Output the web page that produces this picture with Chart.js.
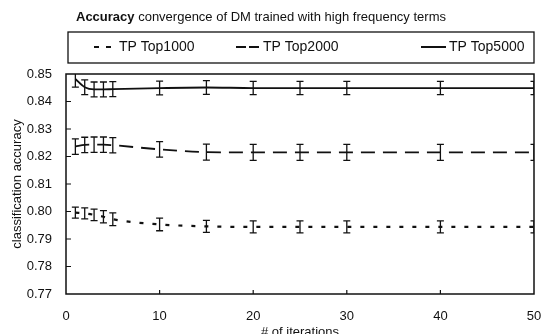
<!DOCTYPE html>
<html>
<head>
<meta charset="utf-8">
<script src="https://cdn.jsdelivr.net/npm/chart.js@4.4.1/dist/chart.umd.min.js"></script>
<style>
  html, body { margin: 0; padding: 0; background: #fff; }
  #wrap { width: 541px; height: 334px; }
</style>
</head>
<body>
<div id="wrap"><canvas id="accChart"></canvas></div>
<script>
// data
var iterations = [1, 2, 3, 4, 5, 10, 15, 20, 25, 30, 40, 50];
var top1000 = [0.7996, 0.7993, 0.7988, 0.7981, 0.7972, 0.7953, 0.7946, 0.7944, 0.7944, 0.7944, 0.7944, 0.7944];
var top1000Err = [0.0020, 0.0020, 0.0021, 0.0022, 0.0023, 0.0023, 0.0022, 0.0022, 0.0022, 0.0022, 0.0022, 0.0022];
var top2000 = [0.8236, 0.8242, 0.8243, 0.8243, 0.8241, 0.8226, 0.8216, 0.8215, 0.8215, 0.8215, 0.8215, 0.8215];
var top2000Err = [0.0028, 0.0028, 0.0028, 0.0028, 0.0028, 0.0028, 0.0029, 0.0029, 0.0029, 0.0029, 0.0029, 0.0029];
var top5000 = [0.8482, 0.8452, 0.8444, 0.8444, 0.8445, 0.8449, 0.8451, 0.8449, 0.8449, 0.8449, 0.8449, 0.8449];
var top5000Err = [0.0030, 0.0027, 0.0027, 0.0027, 0.0027, 0.0025, 0.0025, 0.0024, 0.0024, 0.0024, 0.0024, 0.0024];
var seriesNames = ['TP Top1000', 'TP Top2000', 'TP Top5000'];
var xTicks = [0, 10, 20, 30, 40, 50];
var yTicks = [0.77, 0.78, 0.79, 0.80, 0.81, 0.82, 0.83, 0.84, 0.85];

var ink = '#111';
var fontFamily = '"Liberation Sans", Arial, sans-serif';

function points(ys) {
  return iterations.map(function(x, i) { return { x: x, y: ys[i] }; });
}

// title with bold first word
var titlePlugin = {
  id: 'titlePlugin',
  afterDraw: function(chart) {
    var ctx = chart.ctx;
    ctx.save();
    ctx.fillStyle = ink;
    ctx.textBaseline = 'middle';
    ctx.font = 'bold 13px ' + fontFamily;
    ctx.fillText('Accuracy', 76, 17);
    var w = ctx.measureText('Accuracy ').width;
    ctx.font = '13px ' + fontFamily;
    ctx.fillText('convergence of DM trained with high frequency terms', 76 + w, 17);
    ctx.restore();
  }
};

// boxed legend
var legendSpots = [
  { lineFrom: 94, lineTo: 112, textX: 119 },
  { lineFrom: 236, lineTo: 259, textX: 263 },
  { lineFrom: 421, lineTo: 446, textX: 449 }
];
var legendDash = [[5, 7], [10, 3], []];

var boxedLegend = {
  id: 'boxedLegend',
  afterDraw: function(chart) {
    var ctx = chart.ctx;
    ctx.save();
    ctx.strokeStyle = ink;
    ctx.lineWidth = 1.3;
    ctx.strokeRect(68, 32, 466, 31);
    ctx.font = '14px ' + fontFamily;
    ctx.textBaseline = 'middle';
    ctx.fillStyle = ink;
    chart.data.datasets.forEach(function(ds, i) {
      var s = legendSpots[i];
      ctx.beginPath();
      ctx.lineWidth = 2;
      ctx.setLineDash(legendDash[i]);
      ctx.moveTo(s.lineFrom, 47);
      ctx.lineTo(s.lineTo, 47);
      ctx.stroke();
      ctx.setLineDash([]);
      ctx.fillText(ds.label, s.textX, 47);
    });
    ctx.restore();
  }
};

// error bars from the y scale
var errorBars = {
  id: 'errorBars',
  afterDatasetsDraw: function(chart) {
    var ctx = chart.ctx;
    var y = chart.scales.y;
    var area = chart.chartArea;
    ctx.save();
    ctx.beginPath();
    ctx.rect(area.left, area.top, area.right - area.left, area.bottom - area.top);
    ctx.clip();
    ctx.strokeStyle = ink;
    ctx.lineWidth = 1.3;
    chart.data.datasets.forEach(function(ds, i) {
      var meta = chart.getDatasetMeta(i);
      meta.data.forEach(function(pt, j) {
        var v = ds.data[j].y;
        var e = ds.errors[j];
        var t = y.getPixelForValue(v + e);
        var b = y.getPixelForValue(v - e);
        ctx.beginPath();
        ctx.moveTo(pt.x, t); ctx.lineTo(pt.x, b);
        ctx.moveTo(pt.x - 3.5, t); ctx.lineTo(pt.x + 3.5, t);
        ctx.moveTo(pt.x - 3.5, b); ctx.lineTo(pt.x + 3.5, b);
        ctx.stroke();
      });
    });
    ctx.restore();
  }
};

// plot frame and inward tick marks
var frame = {
  id: 'frame',
  afterDraw: function(chart) {
    var ctx = chart.ctx;
    var a = chart.chartArea;
    var xs = chart.scales.x, ys = chart.scales.y;
    ctx.save();
    ctx.strokeStyle = ink;
    ctx.lineWidth = 1.5;
    ctx.strokeRect(a.left, a.top, a.right - a.left, a.bottom - a.top);
    ctx.lineWidth = 1.2;
    ctx.beginPath();
    yTicks.slice(1, -1).forEach(function(v) {
      var p = ys.getPixelForValue(v);
      ctx.moveTo(a.left, p); ctx.lineTo(a.left + 5, p);
    });
    xTicks.slice(1, -1).forEach(function(v) {
      var p = xs.getPixelForValue(v);
      ctx.moveTo(p, a.bottom); ctx.lineTo(p, a.bottom - 4);
    });
    ctx.stroke();
    ctx.restore();
  }
};

window.onload = function() {
  var ctx = document.getElementById('accChart').getContext('2d');
  var accChart = new Chart(ctx, {
    type: 'line',
    data: {
      datasets: [
        {
          label: seriesNames[0],
          data: points(top1000),
          errors: top1000Err,
          borderColor: ink,
          borderWidth: 2.2,
          borderDash: [4, 9],
          pointRadius: 0,
          cubicInterpolationMode: 'monotone'
        },
        {
          label: seriesNames[1],
          data: points(top2000),
          errors: top2000Err,
          borderColor: ink,
          borderWidth: 1.8,
          borderDash: [14, 8],
          pointRadius: 0,
          cubicInterpolationMode: 'monotone'
        },
        {
          label: seriesNames[2],
          data: points(top5000),
          errors: top5000Err,
          borderColor: ink,
          borderWidth: 1.8,
          pointRadius: 0,
          cubicInterpolationMode: 'monotone'
        }
      ]
    },
    options: {
      responsive: true,
      maintainAspectRatio: false,
      animation: false,
      layout: { padding: { top: 74, right: 7, left: 0, bottom: 0 } },
      plugins: {
        legend: { display: false },
        tooltip: { enabled: false }
      },
      scales: {
        x: {
          type: 'linear',
          min: xTicks[0],
          max: xTicks[xTicks.length - 1],
          afterBuildTicks: function(scale) {
            scale.ticks = xTicks.map(function(v) { return { value: v }; });
          },
          afterFit: function(scale) {
            scale.height = 40;
            scale.paddingLeft = 0;
            scale.paddingRight = 0;
          },
          grid: { display: false, drawTicks: false },
          border: { display: false },
          ticks: { color: ink, font: { family: fontFamily, size: 13 }, padding: 15, maxRotation: 0 },
          title: {
            display: true,
            text: '# of iterations',
            color: ink,
            font: { family: fontFamily, size: 13 },
            padding: { top: 0, bottom: -6 }
          }
        },
        y: {
          min: yTicks[0],
          max: yTicks[yTicks.length - 1],
          afterBuildTicks: function(scale) {
            scale.ticks = yTicks.map(function(v) { return { value: v }; });
          },
          afterFit: function(scale) { scale.width = 66; },
          grid: { display: false, drawTicks: false },
          border: { display: false },
          ticks: {
            color: ink,
            font: { family: fontFamily, size: 13 },
            padding: 14,
            callback: function(value) { return value.toFixed(2); }
          },
          title: {
            display: true,
            text: 'classification accuracy',
            color: ink,
            font: { family: fontFamily, size: 13 },
            padding: { top: 10, bottom: 0 }
          }
        }
      }
    },
    plugins: [titlePlugin, boxedLegend, errorBars, frame]
  });
};
</script>
</body>
</html>
